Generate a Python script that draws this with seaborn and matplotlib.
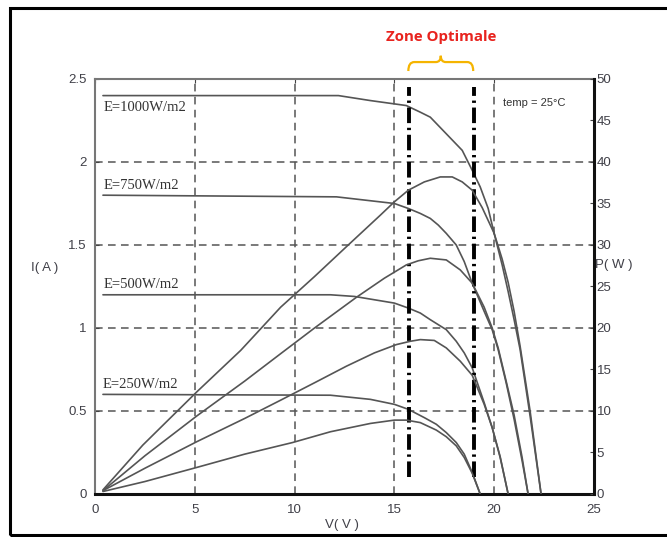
import pandas as pd
import matplotlib.pyplot as plt
import seaborn as sns
from matplotlib.path import Path
from matplotlib.patches import PathPatch, Rectangle

#                         DATA (I in A, P in W, V in V)
irradiance = ['E=1000W/m2', 'E=750W/m2', 'E=500W/m2', 'E=250W/m2']

v_i_1000 = [0.4, 12.2, 13.8, 15.6, 16.3, 16.8, 17.2, 17.6, 18.0, 18.4, 18.9, 19.3, 19.7, 20.0,
            20.4, 20.7, 21.0, 21.3, 21.8, 22.35]
i_1000 = [2.40, 2.40, 2.37, 2.34, 2.30, 2.27, 2.22, 2.17, 2.12, 2.07, 1.95, 1.85, 1.72, 1.57,
          1.38, 1.22, 1.05, 0.87, 0.47, 0.0]
v_p_1000 = [0.4, 2.4, 5.1, 7.3, 9.3, 11.0, 12.6, 14.3, 15.0, 15.7, 16.5, 17.3, 17.9, 18.4, 18.9,
            19.4, 20.0, 20.4, 20.7, 21.0, 21.3, 21.8, 22.35]
p_1000 = [0.5, 5.9, 12.3, 17.3, 22.5, 26.2, 29.8, 33.6, 35.2, 36.6, 37.6, 38.2, 38.2, 37.6, 36.6,
          34.5, 31.4, 28.3, 25.5, 22.0, 17.8, 10.0, 0.0]

v_i_750 = [0.4, 12.1, 15.0, 15.7, 16.3, 16.8, 17.2, 17.6, 18.1, 18.5, 18.9, 19.5, 19.9, 20.2,
           20.6, 21.0, 21.4, 21.7]
i_750 = [1.80, 1.79, 1.75, 1.72, 1.69, 1.66, 1.62, 1.57, 1.50, 1.40, 1.27, 1.10, 0.99, 0.87,
         0.67, 0.45, 0.20, 0.0]
v_p_750 = [0.4, 2.5, 5.1, 7.5, 9.3, 11.0, 13.1, 14.5, 15.6, 16.2, 16.8, 17.6, 18.3, 18.9, 19.5,
           19.9, 20.2, 20.6, 21.0, 21.4, 21.7]
p_750 = [0.4, 4.6, 9.4, 13.6, 16.9, 20.0, 23.7, 26.0, 27.6, 28.1, 28.4, 28.2, 27.0, 25.4, 22.5,
         20.0, 17.6, 13.6, 9.5, 4.4, 0.0]

v_i_500 = [0.4, 11.8, 13.0, 15.0, 15.7, 16.3, 16.8, 17.6, 18.1, 18.5, 18.9, 19.5, 19.9, 20.3, 20.7]
i_500 = [1.20, 1.20, 1.19, 1.15, 1.12, 1.09, 1.05, 0.99, 0.92, 0.85, 0.76, 0.55, 0.40, 0.22, 0.0]
v_p_500 = [0.4, 2.5, 5.1, 7.5, 9.3, 11.0, 12.6, 14.0, 15.1, 15.8, 16.3, 17.0, 17.6, 18.3, 18.9,
           19.5, 19.9, 20.3, 20.7]
p_500 = [0.4, 3.1, 6.3, 9.1, 11.3, 13.4, 15.4, 17.0, 18.0, 18.4, 18.6, 18.5, 17.6, 16.0, 14.3,
         10.8, 8.0, 4.5, 0.0]

v_i_250 = [0.4, 11.8, 13.8, 15.0, 15.7, 16.5, 17.1, 17.6, 18.1, 18.5, 18.9, 19.3]
i_250 = [0.60, 0.595, 0.57, 0.54, 0.51, 0.46, 0.42, 0.37, 0.31, 0.24, 0.13, 0.0]
v_p_250 = [0.4, 2.5, 5.1, 7.5, 9.9, 11.8, 13.8, 15.0, 15.6, 16.3, 17.1, 17.6, 18.1, 18.5, 18.9, 19.3]
p_250 = [0.3, 1.5, 3.2, 4.8, 6.2, 7.5, 8.5, 8.9, 8.9, 8.6, 7.7, 6.9, 5.8, 4.4, 2.5, 0.0]

zone_v = [15.75, 19.0]

df_i = pd.concat([
    pd.DataFrame({'V': v, 'I': i, 'E': e})
    for v, i, e in zip([v_i_1000, v_i_750, v_i_500, v_i_250], [i_1000, i_750, i_500, i_250], irradiance)
])
df_p = pd.concat([
    pd.DataFrame({'V': v, 'P': p, 'E': e})
    for v, p, e in zip([v_p_1000, v_p_750, v_p_500, v_p_250], [p_1000, p_750, p_500, p_250], irradiance)
])

sns.set_style('white')
plt.rcParams['font.family'] = ['Liberation Sans Narrow', 'Liberation Sans', 'DejaVu Sans']

curve_col = '#555555'
txt_col = '#404048'

fig = plt.figure(figsize=(6.67, 5.37), dpi=100)
ax = fig.add_axes([0.1424, 0.0801, 0.7481, 0.7728])
ax2 = ax.twinx()

sns.lineplot(data=df_i, x='V', y='I', units='E', estimator=None, color=curve_col, lw=1.2, ax=ax)
sns.lineplot(data=df_p, x='V', y='P', units='E', estimator=None, color=curve_col, lw=1.2, ax=ax2)

ax.set_xlim(0, 25)
ax.set_ylim(0, 2.5)
ax2.set_ylim(0, 50)
ax.set_xticks([0, 5, 10, 15, 20, 25])
ax.set_yticks([0, 0.5, 1, 1.5, 2, 2.5])
ax.set_yticklabels(['0', '0.5', '1', '1.5', '2', '2.5'])
ax2.set_yticks(range(0, 51, 5))
ax.set_xlabel('')
ax.set_ylabel('')
ax2.set_ylabel('')

# dashed grid
for gx in [5, 10, 15, 20]:
    ax.axvline(gx, color='#555555', lw=1.1, ls=(0, (5, 3.5)), zorder=0)
for gy in [0.5, 1, 1.5, 2]:
    ax.axhline(gy, color='#555555', lw=1.1, ls=(0, (5, 3.5)), zorder=0)

# optimal zone lines
for zv in zone_v:
    ax.plot([zv, zv], [0.1, 2.45], color='black', lw=2.8, ls=(0, (4, 1.2, 0.6, 1.2)), zorder=3)

# spines
for s in ['left', 'top']:
    ax.spines[s].set_color('#777777')
    ax.spines[s].set_linewidth(1.5)
ax.spines['right'].set_visible(False)
ax.spines['bottom'].set_color('#111111')
ax.spines['bottom'].set_linewidth(2.2)
ax.spines['bottom'].set_linestyle((0, (4, 1)))
for s in ['left', 'top', 'bottom']:
    ax2.spines[s].set_visible(False)
ax2.spines['right'].set_color('#111111')
ax2.spines['right'].set_linewidth(2.2)
ax2.spines['right'].set_linestyle((0, (4, 1)))

ax.tick_params(axis='both', direction='in', length=3, color='#444444', labelsize=9.5, labelcolor=txt_col)
ax.tick_params(axis='y', pad=6)
ax.tick_params(axis='x', pad=7, top=True)
ax2.tick_params(axis='y', direction='in', length=3, color='#444444', labelsize=9.5, labelcolor=txt_col, pad=2)

# irradiance labels
lab_font = dict(family=['Liberation Serif', 'DejaVu Serif'], fontsize=10.5, color='#333333')
ax.text(0.45, 2.37, irradiance[0], va='top', ha='left', **lab_font)
ax.text(0.45, 1.82, irradiance[1], va='bottom', ha='left', **lab_font)
ax.text(0.45, 1.22, irradiance[2], va='bottom', ha='left', **lab_font)
ax.text(0.40, 0.62, irradiance[3], va='bottom', ha='left', **lab_font)
ax.text(20.45, 2.355, 'temp = 25\u00b0C', va='center', ha='left', fontsize=8, color='#333333')

# zone brace and title
x0, x1 = zone_v[0] - 0.05, zone_v[1] - 0.05
xm = (x0 + x1) / 2
verts = [(x0, 2.548), (x0, 2.602), (x0 + 0.3, 2.602), (xm - 0.25, 2.602), (xm, 2.602), (xm, 2.64),
         (xm, 2.602), (xm + 0.25, 2.602), (x1 - 0.3, 2.602), (x1, 2.602), (x1, 2.548)]
codes = [Path.MOVETO, Path.CURVE3, Path.CURVE3, Path.LINETO, Path.CURVE3, Path.CURVE3,
         Path.CURVE3, Path.CURVE3, Path.LINETO, Path.CURVE3, Path.CURVE3]
ax.add_patch(PathPatch(Path(verts, codes), fill=False, ec='#f5b400', lw=1.6, clip_on=False))
ax.text(xm, 2.75, 'Zone Optimale', ha='center', va='center', color='#e8231e',
        fontsize=10.8, fontweight='bold', family=['Open Sans', 'DejaVu Sans'], clip_on=False)

# axis titles
fig.text(45 / 667, 1 - 268 / 537, 'I( A )', ha='center', va='center', fontsize=9.5, color=txt_col)
fig.text(614 / 667, 1 - 265 / 537, 'P( W )', ha='center', va='center', fontsize=9.5, color=txt_col)
fig.text(342 / 667, 1 - 525 / 537, 'V( V )', ha='center', va='center', fontsize=9.5, color=txt_col)

# outer frame
fig.patches.append(Rectangle((10 / 667, 2 / 537), 1.0, 1 - 8 / 537 - 2 / 537, transform=fig.transFigure,
                             fill=False, ec='black', lw=2.2))

fig.savefig('out.png', dpi=100)
